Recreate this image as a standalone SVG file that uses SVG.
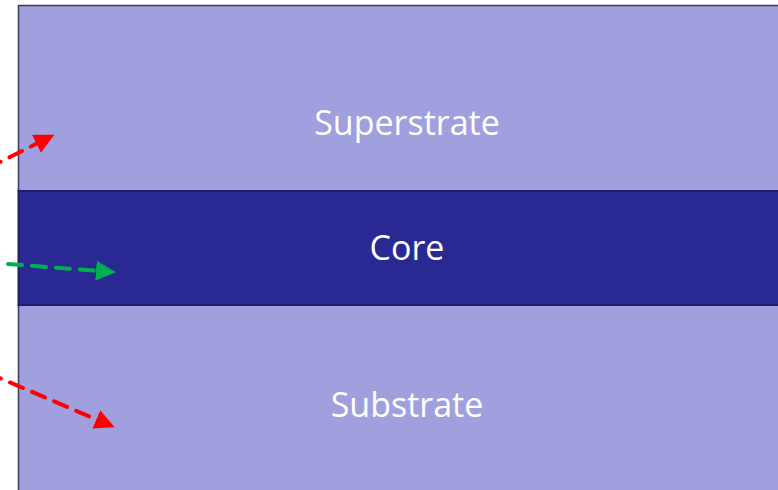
<svg xmlns="http://www.w3.org/2000/svg" width="778" height="490" viewBox="0 0 778 490">
<style>
.layer{stroke:#3a3a5a;stroke-width:1.5}
.clad{fill:#A0A0DF}
.core{fill:#2A2893;stroke:#1e1d6a}
.lbl{font-family:"Open Sans","Liberation Sans",sans-serif;font-size:34px;fill:#ffffff;text-anchor:middle}
.red{stroke:#FF0000;stroke-width:4;stroke-dasharray:14 10;stroke-linecap:round;fill:none}
.green{stroke:#00B050;stroke-width:4;stroke-dasharray:14 10;stroke-linecap:round;fill:none}
</style>
<defs>
<marker id="ar" markerWidth="5" markerHeight="5" refX="1" refY="2.5" orient="auto" markerUnits="strokeWidth"><path d="M0,0 L5,2.5 L0,5 Z" fill="#FF0000"/></marker>
<marker id="ag" markerWidth="5" markerHeight="5" refX="1" refY="2.5" orient="auto" markerUnits="strokeWidth"><path d="M0,0 L5,2.5 L0,5 Z" fill="#00B050"/></marker>
</defs>
<rect width="778" height="490" fill="#ffffff"/>
<g id="superstrate">
<rect class="layer clad" x="18.5" y="5.5" width="770" height="186"/>
<text class="lbl" x="407" y="135">Superstrate</text>
</g>
<g id="substrate">
<rect class="layer clad" x="18.5" y="305" width="770" height="200"/>
<text class="lbl" x="407" y="417">Substrate</text>
</g>
<g id="core">
<rect class="core" x="18.5" y="191" width="770" height="114" stroke-width="2"/>
<text class="lbl" x="407" y="260">Core</text>
</g>
<g id="connectors">
<path class="red" d="M-12,168 L40,142" marker-end="url(#ar)"/>
<path class="green" d="M8,264 L100,271" marker-end="url(#ag)"/>
<path class="red" d="M-12,373 L100,421" marker-end="url(#ar)"/>
</g>
</svg>
